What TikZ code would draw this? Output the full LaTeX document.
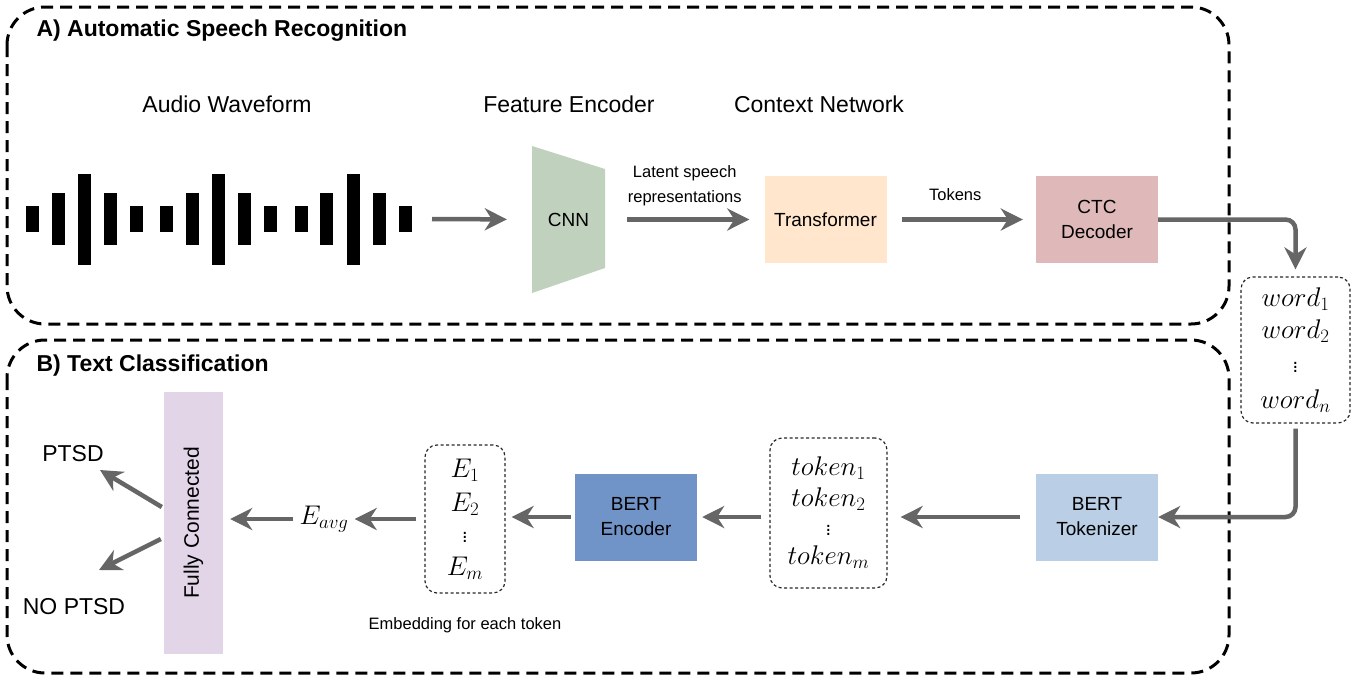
\RequirePackage{fix-cm}
\documentclass[tikz,border=0pt]{standalone}
\usepackage[no-math]{fontspec}
\setmainfont{Liberation Sans}
\usetikzlibrary{arrows.meta}

\definecolor{flowgray}{HTML}{666666}
\definecolor{cnngreen}{RGB}{192,209,190}
\definecolor{transorange}{HTML}{FFE6CC}
\definecolor{ctcred}{RGB}{223,185,185}
\definecolor{toklblue}{RGB}{186,206,230}
\definecolor{encblue}{RGB}{113,148,200}
\definecolor{fcpurple}{HTML}{E1D5E7}

\newcommand{\smallvdots}{{\fontsize{20}{20}\selectfont$\vdots$}}

\tikzset{
  flow/.style={draw=flowgray,line width=4.5pt,-{Stealth[length=22pt,width=22pt,inset=7pt]}},
  groupbox/.style={draw=black,line width=3pt,dash pattern=on 12pt off 7pt,rounded corners=38pt},
  listbox/.style={draw=black!85,line width=1.2pt,dash pattern=on 3pt off 2.5pt,rounded corners=12pt,align=center,inner sep=0pt},
  block/.style={minimum width=122pt,minimum height=87pt,align=center,font=\fontsize{19}{25}\selectfont},
  heading/.style={font=\fontsize{23}{27}\selectfont},
  smalllabel/.style={font=\fontsize{16.5}{25}\selectfont,align=center,inner sep=0pt},
}

\begin{document}
\begin{tikzpicture}[x=1pt,y=-1pt]
\useasboundingbox (0,0) rectangle (1364,681);

% A) speech recognition
\draw[groupbox] (7,7) rectangle (1229,324);
\node[anchor=west,font=\fontsize{23}{27}\selectfont\bfseries] (titleA) at (33,31) {A) Automatic Speech Recognition};

\node[heading] (wavelbl) at (227,104) {Audio Waveform};
\node[heading] (cnnlbl) at (569,104) {Feature Encoder};
\node[heading] (trflbl) at (819,104) {Context Network};

% waveform bars
\foreach \xl/\h in {26/26,52/52,78/91,104/52,130/26,160/26,186/52,212/91,238/52,264/26,295/26,320/52,347/91,373/52,399/26}
  \fill (\xl,{219-\h/2}) rectangle ++(13,\h);
\coordinate (waveend) at (432,219);

\fill[cnngreen] (532,146) -- (605,169) -- (605,268) -- (532,293) -- cycle;
\node[block,minimum width=73pt,minimum height=147pt] (cnn) at (568.5,219.5) {CNN};
\node[block,fill=transorange] (trf) at (825.5,219.5) {Transformer};
\node[block,fill=ctcred] (ctc) at (1097,219.5) {CTC\\Decoder};

\draw[flow,shorten >=25pt] (waveend) -- (cnn.west);
\draw[flow,shorten <=22pt,shorten >=15pt] (cnn.east) -- (trf.west)
  node[smalllabel,midway,above=11pt] {Latent speech\\representations};
\draw[flow,shorten <=15pt,shorten >=13pt] (trf.east) -- (ctc.west)
  node[smalllabel,midway,above=17pt,xshift=-6pt] {Tokens};

\node[listbox,minimum width=109pt,minimum height=146pt,font=\fontsize{27}{34}\selectfont] (words) at (1295.5,350)
  {$word_1$\\[-2pt]$word_2$\\[0pt]\smallvdots\\[2pt]$word_n$};
\draw[flow,rounded corners=10pt,shorten >=7pt] (ctc.east) -| (words.north);

% B) text classification
\draw[groupbox] (7,340) rectangle (1229,673);
\node[anchor=west,font=\fontsize{23}{27}\selectfont\bfseries] (titleB) at (33,366) {B) Text Classification};

\node[block,fill=toklblue] (tokzr) at (1097,517) {BERT\\Tokenizer};
\draw[flow,rounded corners=10pt,shorten <=5pt] (words.south) |- (tokzr.east);

\node[listbox,minimum width=117pt,minimum height=150pt,font=\fontsize{27}{31}\selectfont] (toks) at (828.5,513)
  {$token_1$\\$token_2$\\[-2pt]\smallvdots\\[-2pt]$token_m$};
\node[block,fill=encblue] (enc) at (636,517) {BERT\\Encoder};
\node[listbox,minimum width=80pt,minimum height=148pt,font=\fontsize{27}{34}\selectfont] (embs) at (465,519)
  {$E_1$\\$E_2$\\[-3pt]\smallvdots\\[-1pt]$E_m$};
\node[smalllabel] (embslbl) at (465,625) {Embedding for each token};
\node[inner sep=0pt,font=\fontsize{27}{31}\selectfont] (eavg) at (324,519) {$E_{avg}$};
\node[fill=fcpurple,minimum width=59pt,minimum height=262pt] (fc) at (193.5,523) {};
\node[rotate=90,font=\fontsize{21}{25}\selectfont] (fclbl) at (fc) {Fully Connected};

\draw[flow,shorten <=16pt,shorten >=13pt] (tokzr.west) -- (toks.east |- tokzr.west);
\draw[flow,shorten <=8pt,shorten >=5pt] (toks.west |- enc.east) -- (enc.east);
\draw[flow,shorten <=4pt,shorten >=6pt] (enc.west) -- (embs.east |- enc.west);
\draw[flow,shorten <=8pt,shorten >=6pt] (embs.west) -- (eavg.east |- embs.west);
\draw[flow,shorten <=6pt,shorten >=7pt] (eavg.west) -- (eavg.west -| fc.east);

\node[heading] (ptsd) at (73,454) {PTSD};
\node[heading] (noptsd) at (74,607) {NO PTSD};
\coordinate (ptsdtip) at (100,470);
\coordinate (noptsdtip) at (99,570);
\draw[flow] ([xshift=-2pt,yshift=16pt]fc.west) -- (ptsdtip);
\draw[flow] ([xshift=-3pt,yshift=-16pt]fc.west) -- (noptsdtip);
\end{tikzpicture}
\end{document}
